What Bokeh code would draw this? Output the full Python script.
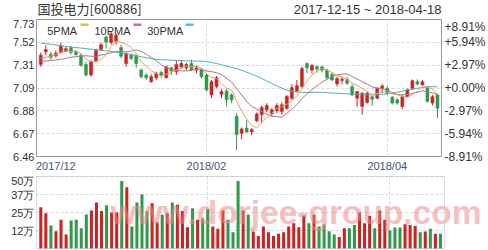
from bokeh.plotting import figure
from bokeh.layouts import column
from bokeh.models import ColumnDataSource, Range1d, FixedTicker, LinearAxis, Label, BoxAnnotation
from bokeh.embed import file_html
from bokeh.resources import INLINE

# ---------------- data ----------------
opens = [7.313, 7.430, 7.408, 7.393, 7.423, 7.436, 7.469, 7.430, 7.399, 7.313,
         7.215, 7.344, 7.451, 7.568, 7.516, 7.528, 7.470, 7.322, 7.399, 7.399,
         7.261, 7.215, 7.154, 7.190, 7.239, 7.190, 7.282, 7.246, 7.292, 7.282,
         7.322, 7.261, 7.270, 7.215, 7.031, 7.108, 7.037, 7.068, 7.031, 6.832,
         6.675, 6.724, 6.687, 6.792, 6.847, 6.893, 6.856, 6.884, 6.878, 6.908,
         7.000, 7.068, 7.108, 7.322, 7.261, 7.292, 7.292, 7.261, 7.221, 7.132,
         7.165, 7.175, 7.107, 7.000, 6.923, 6.960, 7.015, 7.000, 7.092, 7.092,
         7.010, 6.985, 6.923, 7.015, 7.092, 7.153, 7.123, 7.100, 6.955, 7.031]
highs = [7.423, 7.491, 7.430, 7.445, 7.516, 7.476, 7.485, 7.445, 7.414, 7.338,
         7.353, 7.460, 7.516, 7.583, 7.614, 7.598, 7.497, 7.430, 7.414, 7.405,
         7.276, 7.230, 7.221, 7.246, 7.252, 7.301, 7.292, 7.353, 7.353, 7.328,
         7.359, 7.301, 7.276, 7.230, 7.169, 7.206, 7.086, 7.086, 7.046, 6.862,
         6.730, 6.801, 6.724, 6.868, 6.933, 6.954, 6.908, 6.954, 6.963, 7.031,
         7.129, 7.169, 7.292, 7.332, 7.313, 7.307, 7.300, 7.276, 7.240, 7.200,
         7.200, 7.200, 7.129, 7.068, 7.060, 7.060, 7.025, 7.100, 7.132, 7.110,
         7.020, 7.000, 7.030, 7.090, 7.175, 7.175, 7.170, 7.110, 7.030, 7.046]
lows = [7.292, 7.399, 7.359, 7.377, 7.414, 7.430, 7.405, 7.393, 7.292, 7.200,
        7.200, 7.332, 7.442, 7.460, 7.497, 7.497, 7.368, 7.292, 7.353, 7.282,
        7.184, 7.169, 7.144, 7.169, 7.190, 7.184, 7.215, 7.215, 7.276, 7.261,
        7.252, 7.230, 7.184, 7.062, 7.000, 7.092, 7.000, 6.924, 6.954, 6.520,
        6.620, 6.678, 6.657, 6.779, 6.770, 6.871, 6.832, 6.862, 6.847, 6.893,
        6.985, 7.055, 7.098, 7.230, 7.230, 7.239, 7.240, 7.178, 7.160, 7.108,
        7.130, 7.123, 7.020, 6.923, 6.847, 6.950, 6.930, 6.990, 7.046, 7.030,
        6.940, 6.940, 6.900, 7.010, 7.077, 7.120, 7.120, 6.960, 6.935, 6.817]
closes = [7.399, 7.451, 7.377, 7.420, 7.485, 7.460, 7.423, 7.405, 7.307, 7.215,
          7.338, 7.445, 7.497, 7.522, 7.598, 7.583, 7.390, 7.414, 7.368, 7.322,
          7.200, 7.190, 7.200, 7.230, 7.215, 7.292, 7.252, 7.313, 7.322, 7.313,
          7.261, 7.282, 7.200, 7.077, 7.154, 7.190, 7.062, 6.985, 6.985, 6.663,
          6.715, 6.687, 6.709, 6.853, 6.914, 6.933, 6.893, 6.933, 6.939, 7.016,
          7.098, 7.117, 7.276, 7.282, 7.307, 7.270, 7.261, 7.190, 7.169, 7.184,
          7.175, 7.140, 7.031, 7.063, 7.046, 7.046, 6.990, 7.092, 7.114, 7.046,
          6.955, 6.955, 7.015, 7.077, 7.162, 7.132, 7.153, 6.970, 7.015, 6.908]
ma5 = [7.370, 7.380, 7.390, 7.405, 7.426, 7.439, 7.433, 7.439, 7.416, 7.362,
       7.338, 7.342, 7.360, 7.403, 7.480, 7.529, 7.518, 7.501, 7.471, 7.415,
       7.339, 7.299, 7.256, 7.228, 7.207, 7.225, 7.238, 7.260, 7.279, 7.298,
       7.292, 7.298, 7.276, 7.227, 7.195, 7.181, 7.137, 7.094, 7.075, 6.977,
       6.882, 6.807, 6.752, 6.725, 6.776, 6.819, 6.860, 6.905, 6.922, 6.943,
       6.976, 7.021, 7.089, 7.158, 7.216, 7.250, 7.279, 7.262, 7.239, 7.215,
       7.196, 7.172, 7.140, 7.119, 7.091, 7.065, 7.035, 7.047, 7.058, 7.058,
       7.039, 7.032, 7.017, 7.010, 7.033, 7.068, 7.108, 7.099, 7.086, 7.036]
ma10 = [7.340, 7.345, 7.350, 7.355, 7.360, 7.370, 7.380, 7.385, 7.390, 7.394,
        7.389, 7.388, 7.400, 7.410, 7.421, 7.434, 7.430, 7.431, 7.437, 7.448,
        7.434, 7.409, 7.379, 7.350, 7.311, 7.282, 7.269, 7.258, 7.254, 7.253,
        7.259, 7.268, 7.268, 7.253, 7.247, 7.237, 7.218, 7.185, 7.151, 7.086,
        7.032, 6.972, 6.923, 6.900, 6.877, 6.851, 6.834, 6.829, 6.824, 6.860,
        6.898, 6.941, 6.997, 7.040, 7.080, 7.113, 7.150, 7.176, 7.199, 7.216,
        7.223, 7.226, 7.201, 7.179, 7.153, 7.131, 7.104, 7.094, 7.089, 7.075,
        7.052, 7.034, 7.032, 7.034, 7.046, 7.054, 7.070, 7.058, 7.048, 7.035]
ma30 = [7.512, 7.506, 7.500, 7.494, 7.488, 7.481, 7.475, 7.470, 7.465, 7.460,
        7.455, 7.450, 7.445, 7.439, 7.433, 7.427, 7.420, 7.414, 7.405, 7.395,
        7.385, 7.375, 7.367, 7.360, 7.357, 7.355, 7.353, 7.351, 7.349, 7.347,
        7.345, 7.345, 7.344, 7.340, 7.332, 7.322, 7.310, 7.298, 7.286, 7.273,
        7.260, 7.242, 7.224, 7.205, 7.183, 7.160, 7.137, 7.115, 7.094, 7.075,
        7.066, 7.060, 7.055, 7.054, 7.054, 7.055, 7.055, 7.052, 7.049, 7.046,
        7.044, 7.041, 7.038, 7.036, 7.034, 7.032, 7.031, 7.033, 7.037, 7.041,
        7.046, 7.056, 7.066, 7.077, 7.085, 7.093, 7.100, 7.106, 7.107, 7.107]
volumes = [28.7, 24.5, 16.0, 12.0, 20.0, 9.7, 19.4, 20.0, 14.0, 23.6,
           26.4, 32.0, 26.0, 30.0, 25.0, 25.0, 46.8, 42.6, 15.3, 32.0,
           37.5, 26.0, 31.5, 18.3, 23.4, 24.5, 32.0, 30.3, 26.0, 14.8,
           28.0, 20.0, 21.0, 27.3, 15.3, 13.7, 26.4, 20.0, 11.3, 46.8,
           26.4, 23.6, 11.8, 8.6, 15.3, 11.3, 8.6, 10.2, 11.3, 15.3,
           17.6, 14.8, 23.0, 17.6, 23.6, 15.3, 16.7, 12.0, 9.7, 7.9,
           14.0, 14.0, 16.4, 25.0, 17.6, 22.5, 14.0, 26.4, 20.0, 12.5,
           14.6, 14.6, 16.9, 16.4, 15.7, 11.3, 11.8, 13.7, 10.2, 10.2]

price_ticks = [6.46, 6.6717, 6.8833, 7.095, 7.3067, 7.5183, 7.73]
price_labels = ["6.46", "6.67", "6.88", "7.09", "7.31", "7.52", "7.73"]
pct_labels = ["-8.91%", "-5.94%", "-2.97%", "+0.00%", "+2.97%", "+5.94%", "+8.91%"]
vol_ticks = [12.5, 25, 37.5, 50]
vol_labels = ["12万", "25万", "37万", "50万"]
month_ticks = [3, 33, 69]
month_labels = ["2017/12", "2018/02", "2018/04"]
month_grid = [33, 69]
title_text = "国投电力[600886]"
range_text = "2017-12-15 ~ 2018-04-18"
watermark = "www.dorjee-group.com"

RED = "#cc2222"
GREEN = "#2f9a4c"
C5, C10, C30 = "#e6a35c", "#b3748f", "#3fb8c4"
S5, S10, S30 = "#d3c35c", "#b27c98", "#4cc6cf"
TXT = "#333333"
XT = "#44557a"
GRID = "#d9d9d9"
EDGE = "#9a9a9a"
FONT = "Liberation Sans"

n = len(closes)
xs = list(range(n))
cols = [RED if c >= o else GREEN for o, c in zip(opens, closes)]
src = ColumnDataSource(dict(
    x=xs, o=opens, h=highs, l=lows, c=closes,
    top=[max(o, c) for o, c in zip(opens, closes)],
    bot=[min(o, c) for o, c in zip(opens, closes)],
    ma5=ma5, ma10=ma10, ma30=ma30, vol=volumes, col=cols))

X0, X1 = -0.85, 79.8
PX = 408.0 / (X1 - X0)          # pixels per bar slot


def style_axis(ax, color=TXT):
    ax.axis_line_color = None
    ax.major_tick_line_color = None
    ax.minor_tick_line_color = None
    ax.major_tick_out = 0
    ax.major_tick_in = 0
    ax.major_label_text_font = FONT
    ax.major_label_text_font_size = "11px"
    ax.major_label_text_color = color


# ---------------- header strip ----------------
h = figure(width=488, height=19, x_range=Range1d(0, 488), y_range=Range1d(0, 19),
           output_backend="svg", toolbar_location=None,
           x_axis_location=None, y_axis_location=None,
           min_border_left=0, min_border_right=0, min_border_top=0, min_border_bottom=0)
h.frame_align = False
h.outline_line_color = None
h.grid.visible = False
h.title.visible = False
h.add_layout(Label(x=37, y=11, text=title_text, text_font="Noto Sans CJK SC",
                   text_font_size="13px", text_color=TXT,
                   text_baseline="middle", text_align="left"))
h.add_layout(Label(x=441, y=10.5, text=range_text, text_font=FONT,
                   text_font_size="13px", text_color=TXT,
                   text_baseline="middle", text_align="right"))

# ---------------- price panel ----------------
p = figure(width=488, height=155, x_range=Range1d(X0, X1), y_range=Range1d(6.46, 7.73),
           output_backend="svg", toolbar_location=None,
           min_border_left=36, min_border_right=44, min_border_top=0, min_border_bottom=17)
p.frame_align = False
p.title.visible = False
p.background_fill_color = "white"
p.border_fill_color = "white"
p.outline_line_color = EDGE

p.segment(x0="x", y0="h", x1="x", y1="l", color="col", line_width=1, source=src)
p.vbar(x="x", width=0.6, top="top", bottom="bot", fill_color="col", line_color="col",
       line_width=0.5, source=src)
p.line("x", "ma30", color=C30, line_width=1, source=src)
p.line("x", "ma10", color=C10, line_width=1, source=src)
p.line("x", "ma5", color=C5, line_width=1, source=src)

ya = p.yaxis[0]
ya.ticker = FixedTicker(ticks=price_ticks)
ya.major_label_overrides = dict(zip(price_ticks, price_labels))
style_axis(ya)
ya.major_label_standoff = 2

ra = LinearAxis(ticker=FixedTicker(ticks=price_ticks),
                major_label_overrides=dict(zip(price_ticks, pct_labels)))
style_axis(ra)
ra.major_label_text_font_size = "12px"
ra.major_label_standoff = 3
p.add_layout(ra, "right")

xa = p.xaxis[0]
xa.ticker = FixedTicker(ticks=month_ticks)
xa.major_label_overrides = dict(zip(month_ticks, month_labels))
style_axis(xa, XT)
xa.major_label_standoff = 3

p.xgrid.ticker = FixedTicker(ticks=month_grid)
for g in (p.xgrid, p.ygrid):
    g.grid_line_color = GRID
    g.grid_line_dash = "3 2"

# legend: text followed by a swatch
for tx, sx, col, ttxt in [(10.7, 44, S5, "5PMA"), (58, 97, S10, "10PMA"), (110.7, 149, S30, "30PMA")]:
    p.add_layout(Label(x=tx, y=125.5, x_units="screen", y_units="screen", text=ttxt,
                       text_font=FONT, text_font_size="11px", text_color=TXT,
                       text_baseline="alphabetic", text_align="left"))
    p.add_layout(BoxAnnotation(left=sx, right=sx + 8, bottom=130.5, top=133,
                               left_units="screen", right_units="screen",
                               bottom_units="screen", top_units="screen",
                               fill_color=col, fill_alpha=1, line_color=None))

# ---------------- volume panel (frame spans to the right edge so the watermark fits) ----------------
VX0 = X0 - 1.0 / PX
VX1 = X1 + 44.0 / PX
VY0 = -1.0 / 1.44
VY1 = 50 + 1.0 / 1.44
v = figure(width=488, height=76, x_range=Range1d(VX0, VX1), y_range=Range1d(VY0, VY1),
           output_backend="svg", toolbar_location=None,
           min_border_left=35, min_border_right=0, min_border_top=1, min_border_bottom=1)
v.frame_align = False
v.title.visible = False
v.background_fill_color = "white"
v.border_fill_color = "white"
v.outline_line_color = None
v.vbar(x="x", width=0.6, top="vol", bottom=0, fill_color="col", line_color=None, source=src)

vy = v.yaxis[0]
vy.ticker = FixedTicker(ticks=vol_ticks)
vy.major_label_overrides = dict(zip(vol_ticks, vol_labels))
style_axis(vy)
vy.major_label_standoff = 1
v.xaxis.visible = False
v.xgrid.ticker = FixedTicker(ticks=month_grid)
for g in (v.xgrid, v.ygrid):
    g.grid_line_color = GRID
    g.grid_line_dash = "3 2"

# blank the right margin, then draw the panel border
v.add_layout(BoxAnnotation(left=X1, fill_color="white", fill_alpha=1, line_color=None))
v.add_layout(BoxAnnotation(left=X0, right=X1, bottom=0, top=50, fill_alpha=0,
                           line_color=EDGE, line_width=1))
v.add_layout(Label(x=75, y=37, x_units="screen", y_units="screen", text=watermark,
                   text_font=FONT, text_font_size="33.5px", text_font_style="bold",
                   text_color="#f08a8a", text_alpha=0.55,
                   text_baseline="alphabetic", text_align="left"))

layout = column(h, p, v, spacing=0)
open("out.html", "w").write(file_html(layout, INLINE))
